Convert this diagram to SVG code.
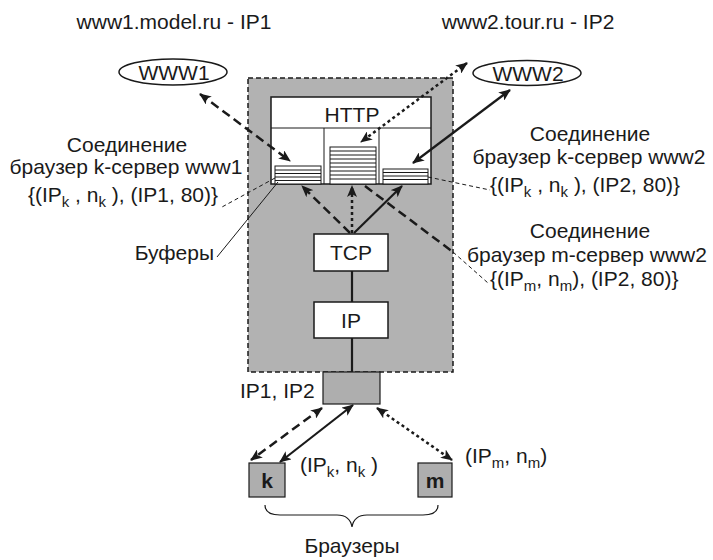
<svg xmlns="http://www.w3.org/2000/svg" width="713" height="560" viewBox="0 0 713 560">
<defs>
<marker id="ah" viewBox="0 0 12 10" refX="11" refY="5" markerWidth="12" markerHeight="10" markerUnits="userSpaceOnUse" orient="auto-start-reverse"><path d="M0,0 L12,5 L0,10 L3,5 Z" fill="#1a1a1a"/></marker>
</defs>
<style>
text{font-family:"Liberation Sans",Arial,sans-serif;font-size:21px;fill:#1a1a1a}
.c{text-anchor:middle}
.e{text-anchor:end}
.box{fill:#fff;stroke:#1a1a1a;stroke-width:1.5}
.grey{fill:#aeaeae;stroke:#1a1a1a;stroke-width:1.2}
.dash{fill:none;stroke:#1a1a1a;stroke-width:2.5;stroke-dasharray:9 5}
.dot{fill:none;stroke:#1a1a1a;stroke-width:2.5;stroke-dasharray:3 3}
.sol{fill:none;stroke:#1a1a1a;stroke-width:2.2}
.lead{fill:none;stroke:#1a1a1a;stroke-width:1;stroke-dasharray:4 3}
.buf{fill:#fff;stroke:#1a1a1a;stroke-width:1}
.bl{stroke:#1a1a1a;stroke-width:1}
.s{font-size:15px}
</style>
<rect width="713" height="560" fill="#fff"/>
<g id="host">
<rect x="248" y="78" width="205" height="294" fill="#b2b2b2" stroke="#1a1a1a" stroke-width="1.5" stroke-dasharray="5 3"/>
</g>
<g id="http">
<rect class="box" x="271" y="97" width="160" height="87"/>
<line class="bl" x1="271" y1="128" x2="431" y2="128"/>
<line class="bl" x1="324" y1="128" x2="324" y2="184"/>
<line class="bl" x1="379" y1="128" x2="379" y2="184"/>
<text class="c" x="352" y="122">HTTP</text>
</g>
<g id="buf1">
<rect class="buf" x="275" y="166" width="46" height="18"/>
<path class="bl" d="M275,170H321M275,173.5H321M275,177H321M275,180.5H321"/>
</g>
<g id="buf2">
<rect class="buf" x="330" y="147" width="46" height="37"/>
<path class="bl" d="M330,151H376M330,155H376M330,159H376M330,163H376M330,167H376M330,171H376M330,175H376M330,179H376"/>
</g>
<g id="buf3">
<rect class="buf" x="383" y="169" width="45" height="15"/>
<path class="bl" d="M383,172.5H428M383,176H428M383,179.5H428"/>
</g>
<g id="tcp">
<rect class="box" x="314" y="234" width="74" height="37"/>
<text class="c" x="351" y="260">TCP</text>
</g>
<g id="ip">
<rect class="box" x="314" y="302" width="74" height="36"/>
<text class="c" x="351" y="328">IP</text>
</g>
<g id="nic">
<rect class="grey" x="323" y="372" width="57" height="32"/>
</g>
<g id="www1">
<ellipse cx="173" cy="72" rx="54" ry="13" fill="#fff" stroke="#1a1a1a" stroke-width="1.5"/>
<text class="c" x="174" y="80">WWW1</text>
</g>
<g id="www2">
<ellipse cx="527" cy="73" rx="54" ry="12.5" fill="#fff" stroke="#1a1a1a" stroke-width="1.5"/>
<text class="c" x="528" y="81">WWW2</text>
</g>
<g id="k">
<rect class="grey" x="249" y="463" width="36" height="34" fill="#a4a4a4"/>
<text class="c" x="267" y="488" font-weight="bold">k</text>
</g>
<g id="m">
<rect class="grey" x="418" y="463" width="34" height="34" fill="#a4a4a4"/>
<text class="c" x="435" y="488" font-weight="bold">m</text>
</g>
<g id="connectors">
<line class="sol" x1="352" y1="271" x2="352" y2="302" stroke-width="3"/>
<line class="sol" x1="352" y1="338" x2="352" y2="372" stroke-width="3"/>
<line class="dash" x1="350" y1="233" x2="302" y2="186" marker-end="url(#ah)"/>
<line class="dot" x1="352" y1="233" x2="352" y2="186" marker-end="url(#ah)"/>
<line class="sol" x1="354" y1="233" x2="402" y2="186" marker-end="url(#ah)"/>
<line class="dash" x1="200" y1="94" x2="290" y2="161" marker-start="url(#ah)" marker-end="url(#ah)"/>
<line class="sol" x1="510" y1="90" x2="413" y2="163" marker-start="url(#ah)" marker-end="url(#ah)"/>
<line class="dot" x1="467" y1="63" x2="361" y2="142" marker-start="url(#ah)" marker-end="url(#ah)"/>
<line class="dash" x1="365" y1="186" x2="453" y2="252" stroke-width="2"/>
<line class="lead" x1="453" y1="252" x2="488" y2="283"/>
<line class="lead" x1="275" y1="178" x2="222" y2="207"/>
<line class="lead" x1="428" y1="177" x2="490" y2="190"/>
<line x1="217" y1="257" x2="278" y2="182" stroke="#1a1a1a" stroke-width="1"/>
<line class="dash" x1="322" y1="408" x2="251" y2="460" marker-start="url(#ah)" marker-end="url(#ah)"/>
<line class="sol" x1="353" y1="405" x2="280" y2="462" marker-start="url(#ah)" marker-end="url(#ah)"/>
<line class="dot" x1="377" y1="408" x2="452" y2="460" marker-start="url(#ah)" marker-end="url(#ah)"/>
<path d="M265,505 Q265,515 280,515 L337,515 Q350,515 352,527 Q354,515 367,515 L423,515 Q438,515 438,505" fill="none" stroke="#1a1a1a" stroke-width="1.2"/>
</g>
<g id="labels">
<text class="c" x="174" y="29">www1.model.ru - IP1</text>
<text class="c" x="528" y="29">www2.tour.ru - IP2</text>
<text class="c" x="127" y="152">Соединение</text>
<text class="c" x="126" y="174">браузер k-сервер www1</text>
<text class="e" x="218" y="202">{(IP<tspan class="s" dy="5">k</tspan><tspan dy="-5"> , n</tspan><tspan class="s" dy="5">k</tspan><tspan dy="-5"> ), (IP1, 80)}</tspan></text>
<text class="e" x="214" y="260">Буферы</text>
<text class="c" x="590" y="141">Соединение</text>
<text class="c" x="589" y="164">браузер k-сервер www2</text>
<text x="490" y="192">{(IP<tspan class="s" dy="5">k</tspan><tspan dy="-5"> , n</tspan><tspan class="s" dy="5">k</tspan><tspan dy="-5"> ), (IP2, 80)}</tspan></text>
<text class="c" x="590" y="238">Соединение</text>
<text class="c" x="587" y="262">браузер m-сервер www2</text>
<text x="490" y="286">{(IP<tspan class="s" dy="5">m</tspan><tspan dy="-5">, n</tspan><tspan class="s" dy="5">m</tspan><tspan dy="-5">), (IP2, 80)}</tspan></text>
<text x="240" y="398">IP1, IP2</text>
<text x="300" y="472">(IP<tspan class="s" dy="5">k</tspan><tspan dy="-5">, n</tspan><tspan class="s" dy="5">k</tspan><tspan dy="-5"> )</tspan></text>
<text x="465" y="463">(IP<tspan class="s" dy="5">m</tspan><tspan dy="-5">, n</tspan><tspan class="s" dy="5">m</tspan><tspan dy="-5">)</tspan></text>
<text class="c" x="352" y="553">Браузеры</text>
</g>
</svg>
